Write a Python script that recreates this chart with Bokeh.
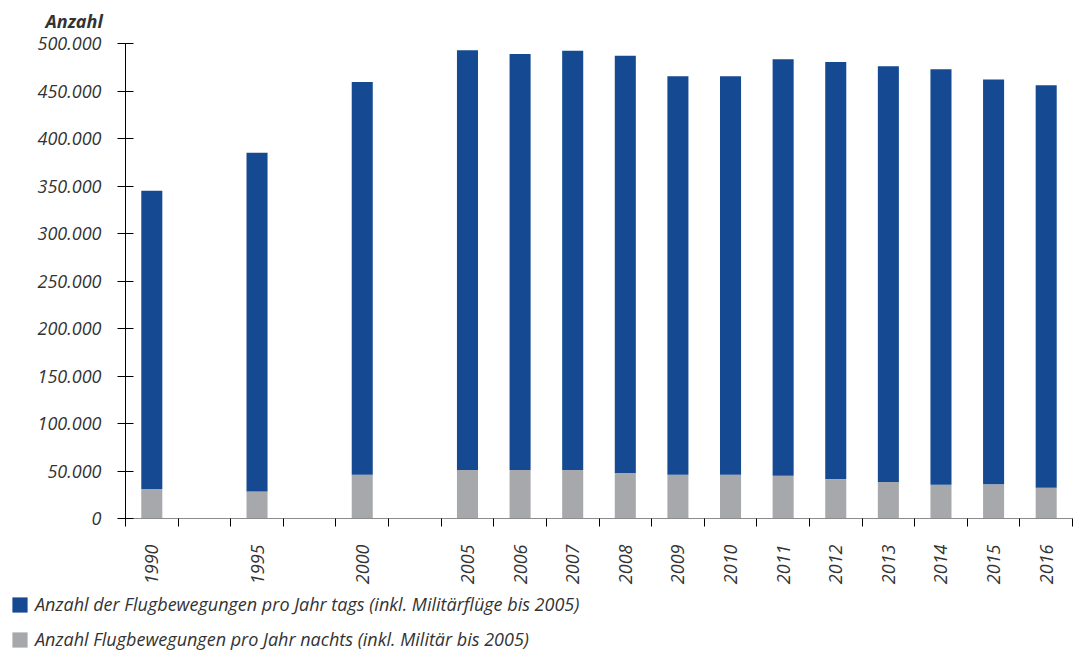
import math
from bokeh.plotting import figure
from bokeh.layouts import column
from bokeh.models import (Range1d, FixedTicker, CustomJSTickFormatter, Legend,
                          LegendItem, ColumnDataSource, Title)
from bokeh.embed import file_html
from bokeh.resources import INLINE

# ---- data ----
categories = ["1990", "", "1995", "", "2000", "", "2005", "2006", "2007", "2008",
              "2009", "2010", "2011", "2012", "2013", "2014", "2015", "2016"]
night = [31000, None, 28500, None, 46000, None, 51000, 51000, 51000, 48000,
         46000, 46000, 45000, 41500, 38500, 35500, 36000, 32500]
day = [314000, None, 356500, None, 413500, None, 442000, 438000, 441500, 439000,
       419500, 419500, 438500, 439000, 437500, 437500, 426000, 423500]
y_ticks = [0, 50000, 100000, 150000, 200000, 250000, 300000, 350000, 400000, 450000, 500000]
legend_day = "Anzahl der Flugbewegungen pro Jahr tags (inkl. Militärflüge bis 2005)"
legend_night = "Anzahl Flugbewegungen pro Jahr nachts (inkl. Militär bis 2005)"
y_title = "Anzahl"

BLUE = "#154a93"
GRAY = "#a7a8ab"
TEXT = "#333333"
FONT = "Open Sans"
FS = "18px"

xs, nb, nt, dt = [], [], [], []
for i, c in enumerate(categories):
    if night[i] is None:
        continue
    xs.append(i + 0.5)
    nb.append(0)
    nt.append(night[i])
    dt.append(night[i] + day[i])
src = ColumnDataSource(dict(x=xs, zero=nb, night=nt, total=dt))

# ---- main chart ----
p = figure(frame_width=947, frame_height=475, output_backend="svg",
           toolbar_location=None,
           x_range=Range1d(0, len(categories)), y_range=Range1d(0, 500000),
           min_border_left=125, min_border_right=3, min_border_top=42,
           min_border_bottom=75)
p.outline_line_color = None
p.xgrid.visible = False
p.ygrid.visible = False

p.title = Title(text=y_title, align="left", offset=-80, standoff=17,
                vertical_align="top",
                text_font=FONT, text_font_style="bold italic",
                text_font_size=FS, text_color=TEXT)

r_night = p.vbar(x="x", width=0.4, bottom="zero", top="night", source=src,
                 fill_color=GRAY, line_color=None)
r_day = p.vbar(x="x", width=0.4, bottom="night", top="total", source=src,
               fill_color=BLUE, line_color=None)

xa = p.xaxis[0]
xa.ticker = FixedTicker(ticks=xs, minor_ticks=list(range(len(categories) + 1)))
xa.formatter = CustomJSTickFormatter(args=dict(labels=categories),
                                     code="return labels[Math.floor(tick)] || '';")
xa.major_label_orientation = math.pi / 2
xa.major_tick_line_color = None
xa.major_tick_out = 0
xa.major_tick_in = 0
xa.minor_tick_line_color = "black"
xa.minor_tick_out = 8
xa.minor_tick_in = 0
xa.axis_line_color = "#8c8c8c"
xa.major_label_standoff = 18
xa.major_label_text_font = FONT
xa.major_label_text_font_style = "italic"
xa.major_label_text_font_size = FS
xa.major_label_text_color = TEXT

ya = p.yaxis[0]
ya.ticker = FixedTicker(ticks=y_ticks, minor_ticks=[])
ya.formatter = CustomJSTickFormatter(
    code="return Math.round(tick).toString().replace(/\\B(?=(\\d{3})+(?!\\d))/g, '.');")
ya.axis_line_color = "black"
ya.major_tick_line_color = "black"
ya.major_tick_in = 8
ya.major_tick_out = 8
ya.minor_tick_line_color = None
ya.major_label_standoff = 16
ya.major_label_text_font = FONT
ya.major_label_text_font_style = "italic"
ya.major_label_text_font_size = FS
ya.major_label_text_color = TEXT

# ---- legend strip ----
leg = figure(width=1075, height=61, output_backend="svg", toolbar_location=None,
             x_range=Range1d(0, 1), y_range=Range1d(0, 1),
             x_axis_location=None, y_axis_location=None, min_border=0)
leg.outline_line_color = None
leg.grid.visible = False
g_day = leg.vbar(x=[5], bottom=[4], top=[5], width=0.4, fill_color=BLUE, line_color=None)
g_night = leg.vbar(x=[5], bottom=[4], top=[5], width=0.4, fill_color=GRAY, line_color=None)
legend = Legend(items=[LegendItem(label=legend_day, renderers=[g_day]),
                       LegendItem(label=legend_night, renderers=[g_night])],
                location=(10, 3), orientation="vertical",
                glyph_width=19, glyph_height=19, label_height=19,
                label_standoff=6, spacing=11, padding=0, margin=0,
                border_line_color=None, background_fill_alpha=0,
                label_text_font=FONT, label_text_font_style="italic",
                label_text_font_size=FS, label_text_color=TEXT)
leg.add_layout(legend, "center")

layout = column(p, column(leg), spacing=0)
open("out.html", "w").write(file_html(layout, INLINE))
